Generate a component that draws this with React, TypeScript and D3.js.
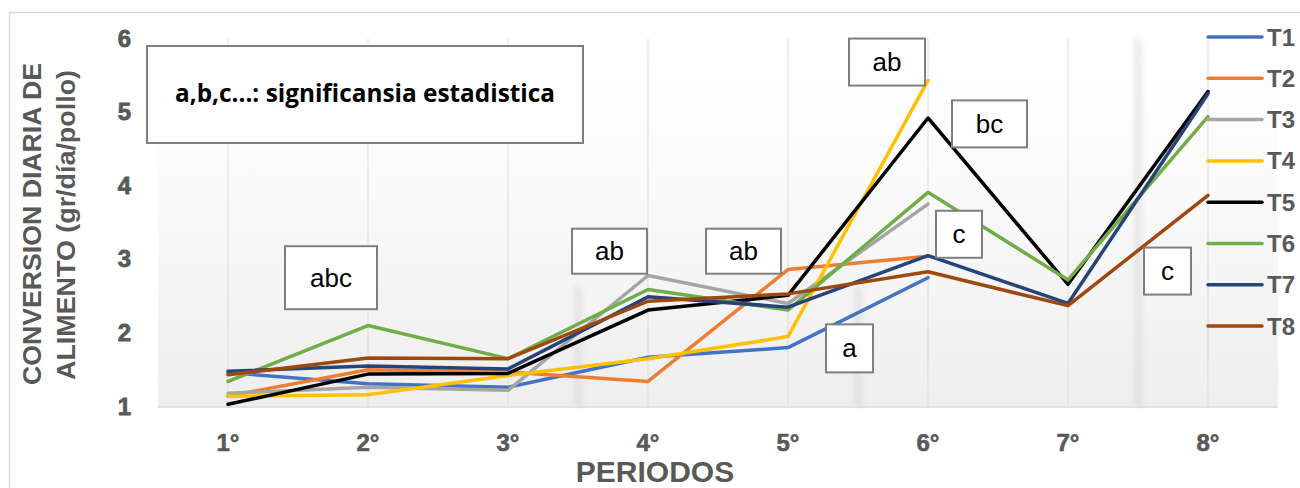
import React from "react";
import * as d3 from "d3";

const periods = ["1°", "2°", "3°", "4°", "5°", "6°", "7°", "8°"];
const seriesNames = ["T1", "T2", "T3", "T4", "T5", "T6", "T7", "T8"];
const colors = ["#4472C4", "#ED7D31", "#A5A5A5", "#FFC000", "#000000", "#70AD47", "#264478", "#9E480E"];

const T1 = [1.46, 1.31, 1.26, 1.67, 1.80, 2.75, null, null];
const T2 = [1.14, 1.50, 1.47, 1.34, 2.86, 3.04, null, null];
const T3 = [1.18, 1.26, 1.22, 2.78, 2.40, 3.75, null, null];
const T4 = [1.14, 1.16, 1.42, 1.65, 1.95, 5.43, null, null];
const T5 = [1.03, 1.44, 1.45, 2.31, 2.51, 4.92, 2.66, 5.28];
const T6 = [1.34, 2.10, 1.65, 2.59, 2.31, 3.91, 2.72, 4.94];
const T7 = [1.48, 1.55, 1.51, 2.49, 2.35, 3.05, 2.40, 5.25];
const T8 = [1.43, 1.66, 1.65, 2.43, 2.53, 2.83, 2.37, 3.87];
const seriesValues = [T1, T2, T3, T4, T5, T6, T7, T8];

const yTicks = [1, 2, 3, 4, 5, 6];

const annLabels = ["abc", "ab", "ab", "ab", "bc", "c", "a", "c"];
const annPeriods = ["2°", "4°", "5°", "6°", "6°", "6°", "5°", "8°"];
const annValues = [2.75, 3.11, 3.11, 5.68, 4.84, 3.34, 1.79, 2.84];
const annDx = [-37, -38.5, -44.5, -41, 61.5, 31, 61.5, -40.5];
const annW = [92, 75, 75, 76, 75, 46, 47, 47];
const annH = [63, 45, 45, 47, 47, 47, 48, 47];

const noteText = "a,b,c...: significansia estadistica";
const yTitle1 = "CONVERSION DIARIA DE";
const yTitle2 = "ALIMENTO (gr/día/pollo)";
const xTitle = "PERIODOS";

export default function App() {
  const W = 1300, H = 488;
  const plotL = 158, plotR = 1278, plotT = 38.5, plotB = 406.5;
  const xb = d3.scaleBand<string>().domain(periods).range([plotL, plotR]).paddingInner(0).paddingOuter(0);
  const x = (p: string) => (xb(p) as number) + xb.bandwidth() / 2;
  const y = d3.scaleLinear().domain([1, 6]).range([plotB, plotT]);
  const line = d3
    .line<number | null>()
    .defined((d) => d !== null)
    .x((_, i) => x(periods[i]))
    .y((d) => y(d as number));

  const axisFont = "'Liberation Sans', Arial, sans-serif";
  const gray = "#595959";
  const shadowXs = [periods[2], periods[4], periods[6]].map((p) => x(p) + xb.bandwidth() / 2);

  return (
    <svg width={W} height={H} style={{ position: "absolute", left: 0, top: 0, background: "#fff" }}>
      <defs>
        <linearGradient id="bg" x1="0" y1="0" x2="0" y2="1">
          <stop offset="0" stopColor="#ffffff" />
          <stop offset="0.3" stopColor="#fcfcfc" />
          <stop offset="1" stopColor="#eeeeee" />
        </linearGradient>
        <filter id="blur" x="-2" y="-0.1" width="5" height="1.2">
          <feGaussianBlur stdDeviation="3" />
        </filter>
      </defs>
      <rect x={9.5} y={12.5} width={1400} height={600} fill="#fff" stroke="#d9d9d9" strokeWidth={1.5} />
      <rect x={plotL} y={plotT} width={plotR - plotL} height={plotB - plotT} fill="url(#bg)" />
      {shadowXs.map((sx, i) => (
        <rect
          key={i}
          x={sx - 3}
          y={i === 2 ? plotT : plotB - 120}
          width={6}
          height={i === 2 ? plotB - plotT : 120}
          fill="#c8c8c8"
          opacity={0.45}
          filter="url(#blur)"
        />
      ))}
      {periods.map((p) => (
        <line key={p} x1={x(p)} x2={x(p)} y1={plotT} y2={plotB} stroke="#dddddd" strokeWidth={1} />
      ))}
      <line x1={plotL} x2={plotR} y1={plotB + 0.5} y2={plotB + 0.5} stroke="#d9d9d9" strokeWidth={1.5} />

      {yTicks.map((t) => (
        <text key={t} x={131} y={y(t) + 8} textAnchor="end" fontFamily={axisFont} fontWeight={900} fontSize={24} fill={gray} stroke={gray} strokeWidth={0.8}>
          {t}
        </text>
      ))}
      {periods.map((p) => (
        <text key={p} x={x(p)} y={451} textAnchor="middle" fontFamily={axisFont} fontWeight={700} fontSize={24} fill={gray} stroke={gray} strokeWidth={0.6}>
          {p}
        </text>
      ))}
      <text x={655} y={482} textAnchor="middle" fontFamily={axisFont} fontWeight={700} fontSize={30} fill={gray}>
        {xTitle}
      </text>
      <text
        transform="translate(41,224) rotate(-90)"
        textAnchor="middle"
        fontFamily={axisFont}
        fontWeight={700}
        fontSize={25}
        fill={gray}
        textLength={322}
        lengthAdjust="spacingAndGlyphs"
      >
        {yTitle1}
      </text>
      <text
        transform="translate(75,225) rotate(-90)"
        textAnchor="middle"
        fontFamily={axisFont}
        fontWeight={700}
        fontSize={25}
        fill={gray}
        textLength={310}
        lengthAdjust="spacingAndGlyphs"
      >
        {yTitle2}
      </text>

      {seriesValues.map((vals, i) => (
        <path
          key={seriesNames[i]}
          d={line(vals) || ""}
          fill="none"
          stroke={colors[i]}
          strokeWidth={3.5}
          strokeLinejoin="round"
          strokeLinecap="round"
        />
      ))}

      <rect x={147} y={46} width={436} height={97} fill="#fff" stroke="#7f7f7f" strokeWidth={2} />
      <text
        x={365}
        y={102}
        textAnchor="middle"
        fontFamily="'Open Sans', sans-serif"
        fontWeight={700}
        fontSize={25}
        fill="#000"
        textLength={380}
        lengthAdjust="spacingAndGlyphs"
      >
        {noteText}
      </text>

      {annLabels.map((lab, i) => {
        const cx = x(annPeriods[i]) + annDx[i];
        const cy = y(annValues[i]);
        return (
          <g key={i}>
            <rect
              x={cx - annW[i] / 2}
              y={cy - annH[i] / 2}
              width={annW[i]}
              height={annH[i]}
              fill="#fff"
              stroke="#7f7f7f"
              strokeWidth={2}
            />
            <text x={cx} y={cy + 9} textAnchor="middle" fontFamily={axisFont} fontSize={26} fill="#000">
              {lab}
            </text>
          </g>
        );
      })}

      {seriesNames.map((n, i) => {
        const ly = 37 + i * 41.3;
        return (
          <g key={n}>
            <line x1={1208} x2={1262} y1={ly} y2={ly} stroke={colors[i]} strokeWidth={3.5} strokeLinecap="round" />
            <text x={1267} y={ly + 8.5} fontFamily={axisFont} fontWeight={700} fontSize={24} fill={gray}>
              {n}
            </text>
          </g>
        );
      })}
    </svg>
  );
}
